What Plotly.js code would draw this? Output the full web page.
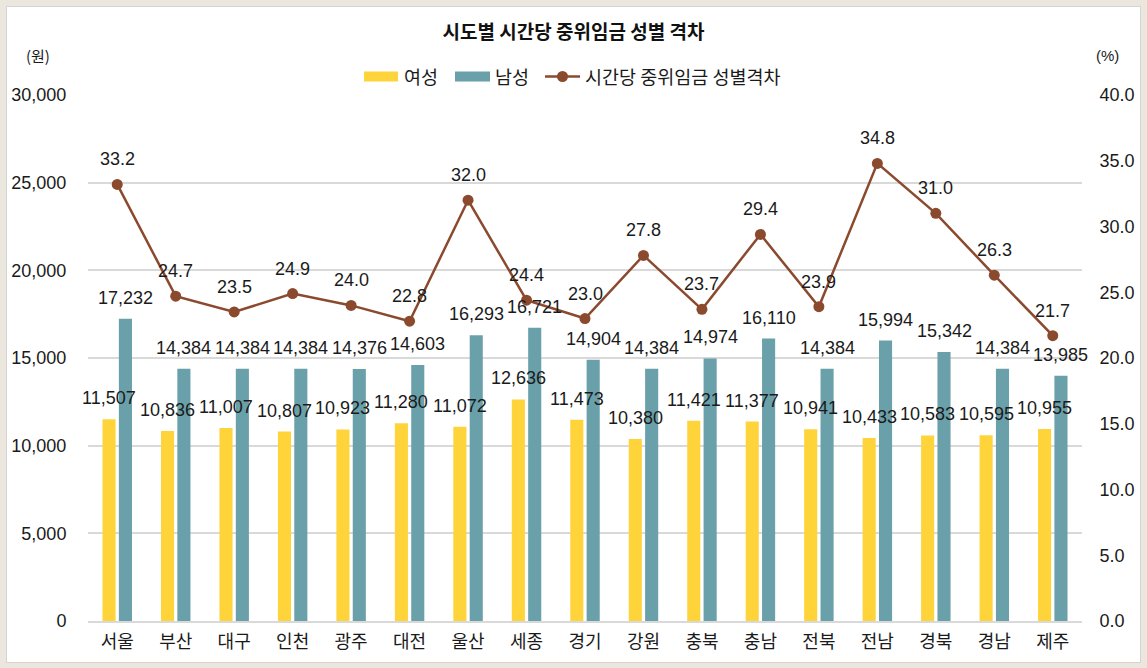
<!DOCTYPE html>
<html>
<head>
<meta charset="utf-8">
<script src="https://cdn.plot.ly/plotly-3.0.1.min.js"></script>
<style>
html,body{margin:0;padding:0;background:#ebe7de;width:1147px;height:668px;overflow:hidden;}
#frame{position:absolute;left:6px;top:6px;width:1133px;height:655px;border:1px solid #d4d4d4;background:#fff;}
#chart{width:1133px;height:655px;}
</style>
</head>
<body>
<div id="frame"><div id="chart"></div></div>
<script>
const regions = ['서울','부산','대구','인천','광주','대전','울산','세종','경기','강원','충북','충남','전북','전남','경북','경남','제주'];
const female = [11507,10836,11007,10807,10923,11280,11072,12636,11473,10380,11421,11377,10941,10433,10583,10595,10955];
const male = [17232,14384,14384,14384,14376,14603,16293,16721,14904,14384,14974,16110,14384,15994,15342,14384,13985];
const gap = [33.2,24.7,23.5,24.9,24.0,22.8,32.0,24.4,23.0,27.8,23.7,29.4,23.9,34.8,31.0,26.3,21.7];
const seriesNames = ['여성','남성','시간당 중위임금 성별격차'];

const FONT = 'Liberation Sans, Arial, Noto Sans CJK KR, sans-serif';
const KFONT = 'Noto Sans CJK KR, Liberation Sans, sans-serif';
const TXT = '#1a1a1a';
const YELLOW = '#FFD43B', TEAL = '#6AA0AA', BROWN = '#8B4A2E';
const fmt = v => v.toLocaleString('en-US');

const traces = [
  {type:'bar', name:seriesNames[0], x:regions, y:female, marker:{color:YELLOW}, hoverinfo:'x+y'},
  {type:'bar', name:seriesNames[1], x:regions, y:male, marker:{color:TEAL}, hoverinfo:'x+y'},
  {type:'scatter', mode:'lines+markers', name:seriesNames[2], x:regions, y:gap, yaxis:'y2',
   line:{color:BROWN,width:2.5}, marker:{color:BROWN,size:11}, cliponaxis:false}
];

// plot area geometry (div coordinates)
const L = 81, R = 58, T = 88, B = 41, W = 1133, H = 655;
const PW = W - L - R, PH = H - T - B;
const px = x => (x - 7 - L) / PW;      // page x -> paper
const py = y => (H - B - (y - 7)) / PH; // page y -> paper

const annotations = [];
const lab = (x, y, text, yref, xshift, yshift) => annotations.push({
  x, y, text, xref:'x', yref, showarrow:false, xanchor:'center', yanchor:'bottom',
  xshift, yshift, font:{family:FONT,size:18,color:TXT}
});
regions.forEach((r,i) => {
  lab(r, female[i], fmt(female[i]), 'y', -8.2, 9);
  lab(r, male[i], fmt(male[i]), 'y', 8.2, 9);
  lab(r, gap[i], gap[i].toFixed(1), 'y2', 0, 13);
});
annotations.push(
  {text:'(원)', xref:'paper', yref:'paper', x:px(38), y:py(55), showarrow:false,
   xanchor:'center', yanchor:'middle', font:{family:KFONT,size:15,color:TXT}},
  {text:'(%)', xref:'paper', yref:'paper', x:px(1107), y:py(55), showarrow:false,
   xanchor:'center', yanchor:'middle', font:{family:FONT,size:15,color:TXT}}
);

// custom legend
const LY = 76.5;
const shapes = [
  {type:'rect', xref:'paper', yref:'paper', x0:px(364), x1:px(398), y0:py(81.5), y1:py(71.5), fillcolor:YELLOW, line:{width:0}},
  {type:'rect', xref:'paper', yref:'paper', x0:px(455), x1:px(490), y0:py(81.5), y1:py(71.5), fillcolor:TEAL, line:{width:0}},
  {type:'line', xref:'paper', yref:'paper', x0:px(545), x1:px(580), y0:py(LY), y1:py(LY), line:{color:BROWN,width:2.5}},
  {type:'circle', xref:'paper', yref:'paper', x0:px(557), x1:px(568), y0:py(LY+5.5), y1:py(LY-5.5), fillcolor:BROWN, line:{width:0}}
];
[[402,seriesNames[0]],[493,seriesNames[1]],[583,seriesNames[2]]].forEach(([x,t]) => annotations.push(
  {text:t, xref:'paper', yref:'paper', x:px(x), y:py(LY), showarrow:false, xanchor:'left', yanchor:'middle',
   font:{family:KFONT,size:18.5,color:TXT}}
));

const layout = {
  width:W, height:H,
  margin:{l:L,r:R,t:T,b:B},
  paper_bgcolor:'#ffffff', plot_bgcolor:'#ffffff',
  font:{family:FONT,size:18,color:TXT},
  title:{text:'<b>시도별 시간당 중위임금 성별 격차</b>', font:{family:KFONT,size:19,color:'#111'},
         x:0.5, xanchor:'center', y:1-25/H, yanchor:'middle'},
  barmode:'group', bargap:0.44, bargroupgap:0.2,
  showlegend:false,
  xaxis:{type:'category', range:[-0.5,16.5], tickfont:{family:KFONT,size:18,color:TXT}, showgrid:false,
         showline:true, linecolor:'#d9d9d9', linewidth:1.5, ticks:'outside', ticklen:4, tickcolor:'rgba(0,0,0,0)',
         fixedrange:true},
  yaxis:{range:[0,30000], dtick:5000, tickformat:',', showgrid:true, gridcolor:'#d9d9d9', gridwidth:1.5,
         zeroline:false, ticks:'outside', ticklen:17, tickcolor:'rgba(0,0,0,0)',
         tickfont:{family:FONT,size:18,color:TXT}},
  yaxis2:{range:[0,40], dtick:5, tickformat:'.1f', overlaying:'y', side:'right', showgrid:false, zeroline:false,
          ticks:'outside', ticklen:13, tickcolor:'rgba(0,0,0,0)', tickfont:{family:FONT,size:18,color:TXT}},
  shapes, annotations
};

Plotly.newPlot('chart', traces, layout, {displayModeBar:false, responsive:false});
</script>
</body>
</html>
